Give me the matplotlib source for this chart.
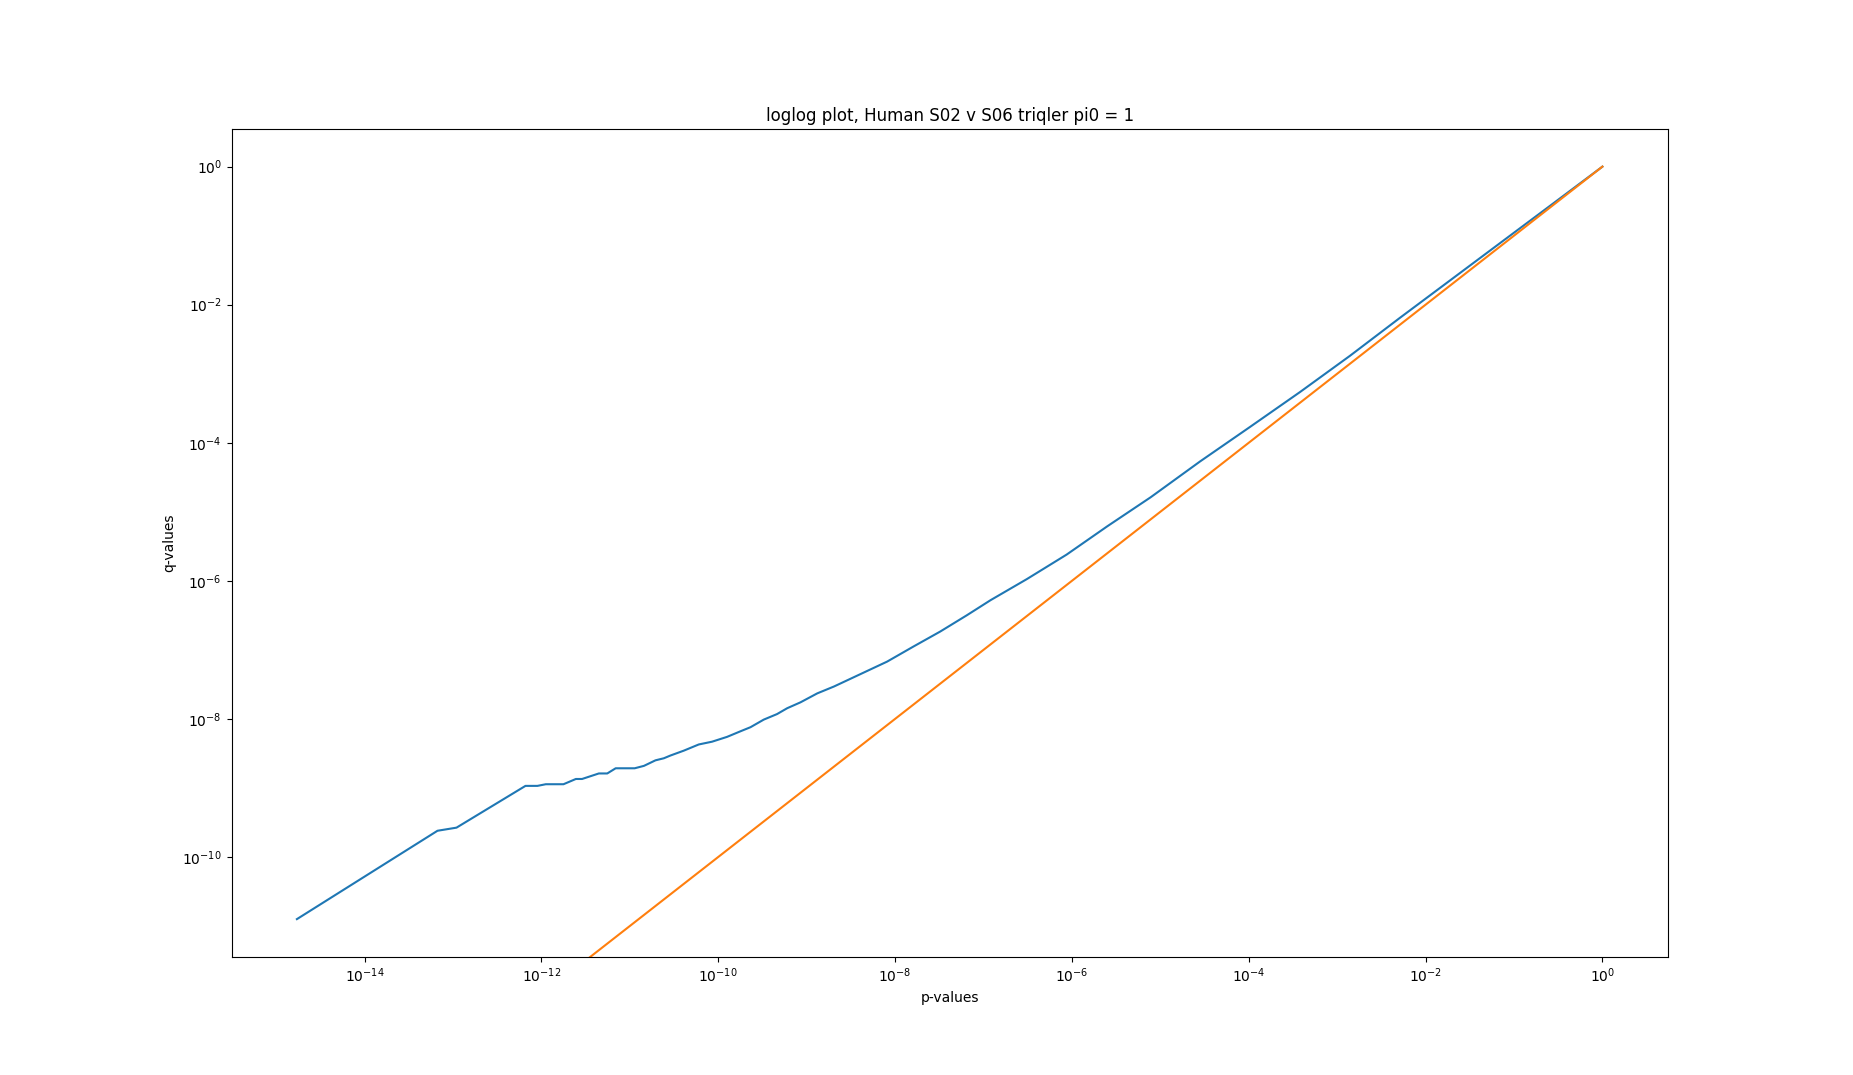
import numpy as np
import matplotlib
matplotlib.use("Agg")
import matplotlib.pyplot as plt


# log10 of the p-values and q-values
log_p = [-14.765, -13.175, -12.96, -12.18, -12.045, -11.95, -11.75, -11.61,
         -11.54, -11.35, -11.255, -11.16, -10.945, -10.84, -10.71, -10.615,
         -10.54, -10.39, -10.22, -10.07, -9.90, -9.75, -9.635, -9.485,
         -9.335, -9.22, -9.07, -8.88, -8.69, -8.39, -8.09, -7.79, -7.49,
         -7.19, -6.92, -6.51, -6.06, -5.60, -5.11, -4.55, -3.985, -3.42,
         -2.855, -2.29, -1.725, -1.16, -0.595, 0.0]
log_q = [-10.90, -9.62, -9.575, -8.97, -8.97, -8.946, -8.946, -8.87,
         -8.87, -8.79, -8.79, -8.715, -8.715, -8.68, -8.60, -8.57,
         -8.53, -8.46, -8.37, -8.33, -8.26, -8.18, -8.12, -8.01,
         -7.93, -7.845, -7.76, -7.63, -7.53, -7.35, -7.17, -6.95, -6.735,
         -6.50, -6.28, -5.975, -5.62, -5.21, -4.79, -4.27, -3.77, -3.265,
         -2.74, -2.19, -1.65, -1.11, -0.57, 0.0]

pvals = 10.0 ** np.array(log_p)
qvals = 10.0 ** np.array(log_q)

fig, ax = plt.subplots(figsize=(18.53, 10.75), dpi=100)

ax.loglog(pvals, qvals)
# keep the limits from the q-value curve only
xlims = ax.get_xlim()
ylims = ax.get_ylim()

# diagonal q = p
ax.plot(pvals, pvals)
ax.set_xlim(xlims)
ax.set_ylim(ylims)

ax.set_title("loglog plot, Human S02 v S06 triqler pi0 = 1")
ax.set_xlabel("p-values")
ax.set_ylabel("q-values")

fig.savefig("out.png", dpi=100)
